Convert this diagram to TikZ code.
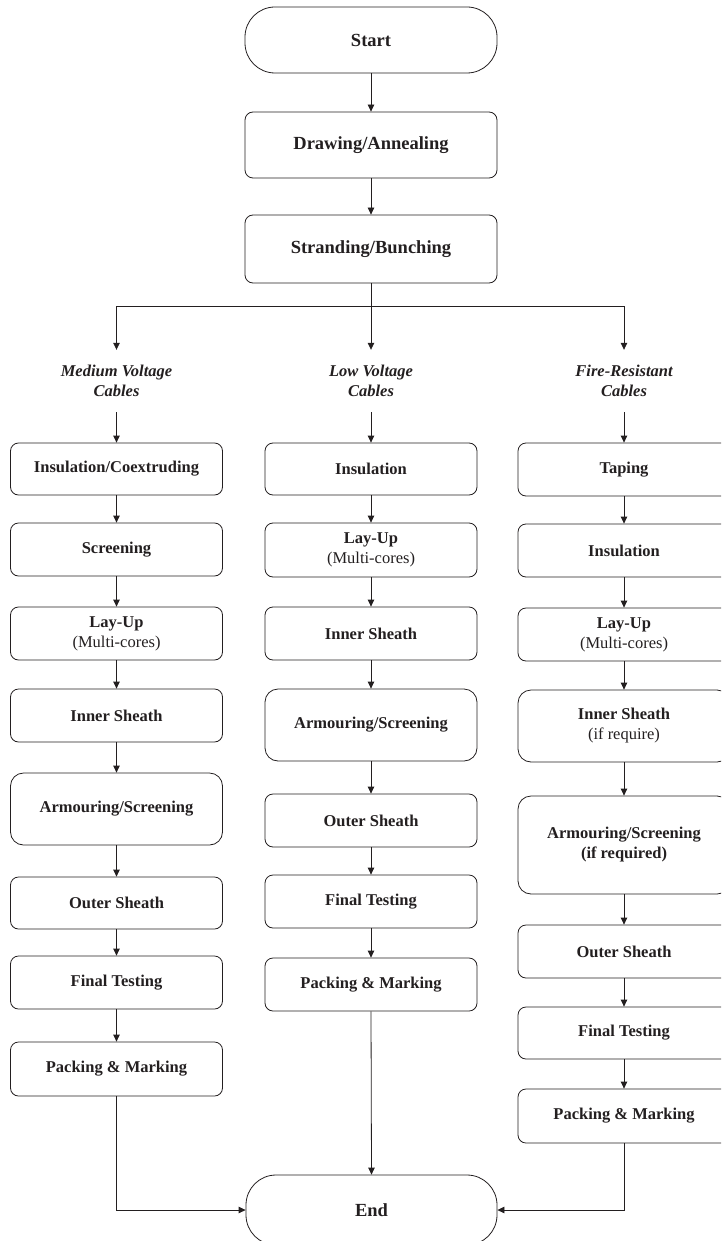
\documentclass[tikz,border=0pt]{standalone}
\usepackage{fontspec}
\setmainfont{Liberation Serif}
\usetikzlibrary{arrows.meta}
\definecolor{ink}{RGB}{35,31,32}
\begin{document}
\begin{tikzpicture}[x=1pt,y=1pt,
  every node/.style={text=ink},
  proc/.style={draw=ink, line width=0.8pt, rounded corners=8pt, minimum width=212pt, align=center, inner sep=2pt, font=\fontsize{16.5}{20}\selectfont\bfseries},
  tallproc/.style={proc, rounded corners=13pt},
  topproc/.style={proc, minimum width=252pt, font=\fontsize{18.5}{22}\selectfont\bfseries},
  term/.style={topproc, rounded corners=30pt},
  head/.style={align=center, minimum height=62pt, inner sep=0pt, font=\fontsize{16.5}{20}\selectfont\bfseries\itshape},
  arr/.style={draw=ink, line width=0.8pt, -{Triangle[length=7pt,width=6.5pt]}},
  conn/.style={draw=ink, line width=0.8pt}
]
\useasboundingbox (0,0) rectangle (721,-1241);
\clip (0,0) rectangle (721,-1241);

% top
\node[term, minimum height=66pt] (start) at (371,-40) {Start};
\node[topproc, minimum height=66pt] (drawn) at (371,-145) {Drawing/Annealing};
\node[topproc, minimum height=68pt] (strand) at (371,-249) {Stranding/Bunching};
\draw[arr] (start) -- (drawn);
\draw[arr] (drawn) -- (strand);

% headings
\node[head] (hL) at (116.5,-381) {Medium Voltage\\Cables};
\node[head] (hM) at (371,-381) {Low Voltage\\Cables};
\node[head] (hR) at (624,-381) {Fire-Resistant\\Cables};
\coordinate (br) at (371,-306);
\draw[conn] (strand.south) -- (br);
\draw[arr] (br) -| (hL.north);
\draw[arr] (br) -- (hM.north);
\draw[arr] (br) -| (hR.north);

% left column
\node[proc, minimum height=52pt] (L1) at (116.5,-469) {Insulation/Coextruding};
\node[proc, minimum height=53pt] (L2) at (116.5,-549.5) {Screening};
\node[proc, minimum height=53pt] (L3) at (116.5,-633.5) {Lay-Up\\{\mdseries(Multi-cores)}};
\node[proc, minimum height=53pt] (L4) at (116.5,-715.5) {Inner Sheath};
\node[tallproc, minimum height=72pt] (L5) at (116.5,-809) {Armouring/Screening};
\node[proc, minimum height=52pt] (L6) at (116.5,-903) {Outer Sheath};
\node[proc, minimum height=53pt] (L7) at (116.5,-982.5) {Final Testing};
\node[proc, minimum height=54pt] (L8) at (116.5,-1069) {Packing \& Marking};

% middle column
\node[proc, minimum height=52pt] (M1) at (371,-469) {Insulation};
\node[proc, minimum height=54pt] (M2) at (371,-550) {Lay-Up\\{\mdseries(Multi-cores)}};
\node[proc, minimum height=53pt] (M3) at (371,-633.5) {Inner Sheath};
\node[tallproc, minimum height=72pt] (M4) at (371,-725) {Armouring/Screening};
\node[proc, minimum height=53pt] (M5) at (371,-820.5) {Outer Sheath};
\node[proc, minimum height=53pt] (M6) at (371,-901.5) {Final Testing};
\node[proc, minimum height=53pt] (M7) at (371,-984.5) {Packing \& Marking};

% right column
\node[proc, minimum height=53pt] (R1) at (624,-469.5) {Taping};
\node[proc, minimum height=53pt] (R2) at (624,-550.5) {Insulation};
\node[proc, minimum height=53pt] (R3) at (624,-634.5) {Lay-Up\\{\mdseries(Multi-cores)}};
\node[tallproc, minimum height=72pt] (R4) at (624,-726) {Inner Sheath\\{\mdseries(if require)}};
\node[tallproc, minimum height=98pt] (R5) at (624,-845) {Armouring/Screening\\(if required)};
\node[proc, minimum height=53pt] (R6) at (624,-951.5) {Outer Sheath};
\node[proc, minimum height=52pt] (R7) at (624,-1033) {Final Testing};
\node[proc, minimum height=54pt] (R8) at (624,-1116) {Packing \& Marking};

% end
\node[term, minimum height=70pt, minimum width=251pt] (endn) at (371.5,-1210) {End};

% column arrows
\draw[arr] (hL.south) -- (L1.north);
\draw[arr] (hM.south) -- (M1.north);
\draw[arr] (hR.south) -- (R1.north);
\foreach \a/\b in {L1/L2,L2/L3,L3/L4,L4/L5,L5/L6,L6/L7,L7/L8,
                   M1/M2,M2/M3,M3/M4,M4/M5,M5/M6,M6/M7,
                   R1/R2,R2/R3,R3/R4,R4/R5,R5/R6,R6/R7,R7/R8}
  \draw[arr] (\a.south) -- (\b.north);

\draw[arr] (L8.south) |- (endn.west);
\draw[arr] (M7.south) -- (endn.north);
\draw[arr] (R8.south) |- (endn.east);
\end{tikzpicture}
\end{document}
